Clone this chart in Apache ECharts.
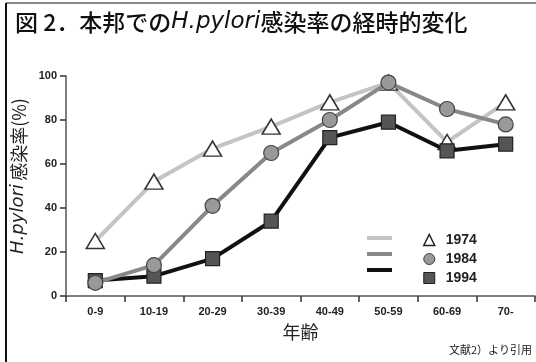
<!DOCTYPE html>
<html><head><meta charset="utf-8">
<script src="https://cdn.jsdelivr.net/npm/echarts@6/dist/echarts.min.js"></script>
<style>html,body{margin:0;padding:0;background:#fff}#c{width:536px;height:362px}</style>
</head><body><div id="c"></div>
<script>
const categories = ['0-9','10-19','20-29','30-39','40-49','50-59','60-69','70-'];
const s1974 = [25, 52, 67, 77, 88, 97, 70, 88];
const s1984 = [6, 14, 41, 65, 80, 97, 85, 78];
const s1994 = [7, 9, 17, 34, 72, 79, 66, 69];
const yTicks = [0, 20, 40, 60, 80, 100];

const chart = echarts.init(document.getElementById('c'), null, {renderer:'canvas'});
const jp = '"Noto Sans CJK JP", sans-serif';
const lat = '"Liberation Sans", Arial, sans-serif';
const dj = '"DejaVu Sans", sans-serif';
chart.setOption({
  animation: false,
  backgroundColor: '#fff',
  title: {
    text: '{a|図 2．本邦での}{b|H.pylori}{a|感染率の経時的変化}',
    left: 10, top: 6,
    textStyle: {
      rich: {
        a: {fontFamily: jp, fontSize: 23, fontWeight: 500, color: '#111'},
        b: {fontFamily: dj, fontSize: 23, fontStyle: 'italic', fontWeight: 'normal', color: '#111'}
      }
    }
  },
  graphic: [
    {type:'line', shape:{x1:6,y1:3,x2:536,y2:3}, style:{stroke:'#888', lineWidth:2}},
    {type:'line', shape:{x1:6,y1:3,x2:6,y2:362}, style:{stroke:'#111', lineWidth:2}},
    {type:'text', right: 4, top: 344, style:{text:'文献2）より引用', fontFamily: jp, fontSize: 11, fill:'#222'}}
  ],
  grid: {left: 66, right: 1, top: 76, bottom: 66},
  legend: [
    {
      orient: 'vertical', left: 362, top: 231, itemWidth: 25, itemHeight: 4, itemGap: 12,
      formatter: () => '', selectedMode: false,
      data: [
        {name:'1974', icon:'rect', itemStyle:{color:'#c4c4c4', borderWidth:0}},
        {name:'1984', icon:'rect', itemStyle:{color:'#888', borderWidth:0}},
        {name:'1994', icon:'rect', itemStyle:{color:'#111', borderWidth:0}}
      ]
    },
    {
      orient: 'vertical', left: 418, top: 228, itemWidth: 11, itemHeight: 11, itemGap: 5,
      selectedMode: false,
      textStyle: {fontFamily: lat, fontWeight: 'bold', fontSize: 14, color: '#222', padding:[0,0,0,6]},
      data: [
        {name:'1974', icon:'triangle', itemStyle:{color:'#fff', borderColor:'#222', borderWidth:1.5}},
        {name:'1984', icon:'circle', itemStyle:{color:'#999', borderColor:'#444', borderWidth:1}},
        {name:'1994', icon:'rect', itemStyle:{color:'#555', borderColor:'#222', borderWidth:1}}
      ]
    }
  ],
  xAxis: {
    type: 'category', data: categories, boundaryGap: true,
    name: '年齢', nameLocation: 'middle', nameGap: 27,
    nameTextStyle: {fontFamily: jp, fontSize: 18, color: '#222'},
    axisLine: {lineStyle: {color: '#555', width: 1.5}},
    axisTick: {show: true, length: 6, alignWithLabel: false, lineStyle:{color:'#333', width:1.5}},
    axisLabel: {fontFamily: lat, fontWeight: 'bold', fontSize: 11, color: '#222', margin: 10}
  },
  yAxis: {
    type: 'value', min: 0, max: 100, interval: 20,
    name: '{i|H.pylori} {j|感染率(%)}', nameLocation: 'middle', nameGap: 31, nameRotate: 90,
    nameTextStyle: {padding: [0, 0, 0, 20], rich: {
      i: {fontFamily: dj, fontStyle: 'italic', fontSize: 18, color: '#222'},
      j: {fontFamily: jp, fontSize: 18, color: '#222'}
    }},
    axisLine: {show: true, lineStyle: {color: '#555', width: 1.5}},
    axisTick: {show: true, length: 6, lineStyle:{color:'#333', width:1.5}},
    splitLine: {show: false},
    axisLabel: {fontFamily: lat, fontWeight: 'bold', fontSize: 11, color: '#222', margin: 9,
      formatter: v => yTicks.includes(v) ? String(v) : ''}
  },
  series: [
    {name:'1974', type:'line', data:s1974, z:1, symbol:'triangle', symbolSize:[18,15],
     lineStyle:{color:'#c4c4c4', width:4}, itemStyle:{color:'#fff', borderColor:'#333', borderWidth:1.5}},
    {name:'1994', type:'line', data:s1994, z:2, symbol:'rect', symbolSize:14,
     lineStyle:{color:'#111', width:4}, itemStyle:{color:'#555', borderColor:'#222', borderWidth:1.2}},
    {name:'1984', type:'line', data:s1984, z:3, symbol:'circle', symbolSize:15,
     lineStyle:{color:'#888', width:4}, itemStyle:{color:'#999', borderColor:'#444', borderWidth:1.2}}
  ]
});
</script></body></html>
